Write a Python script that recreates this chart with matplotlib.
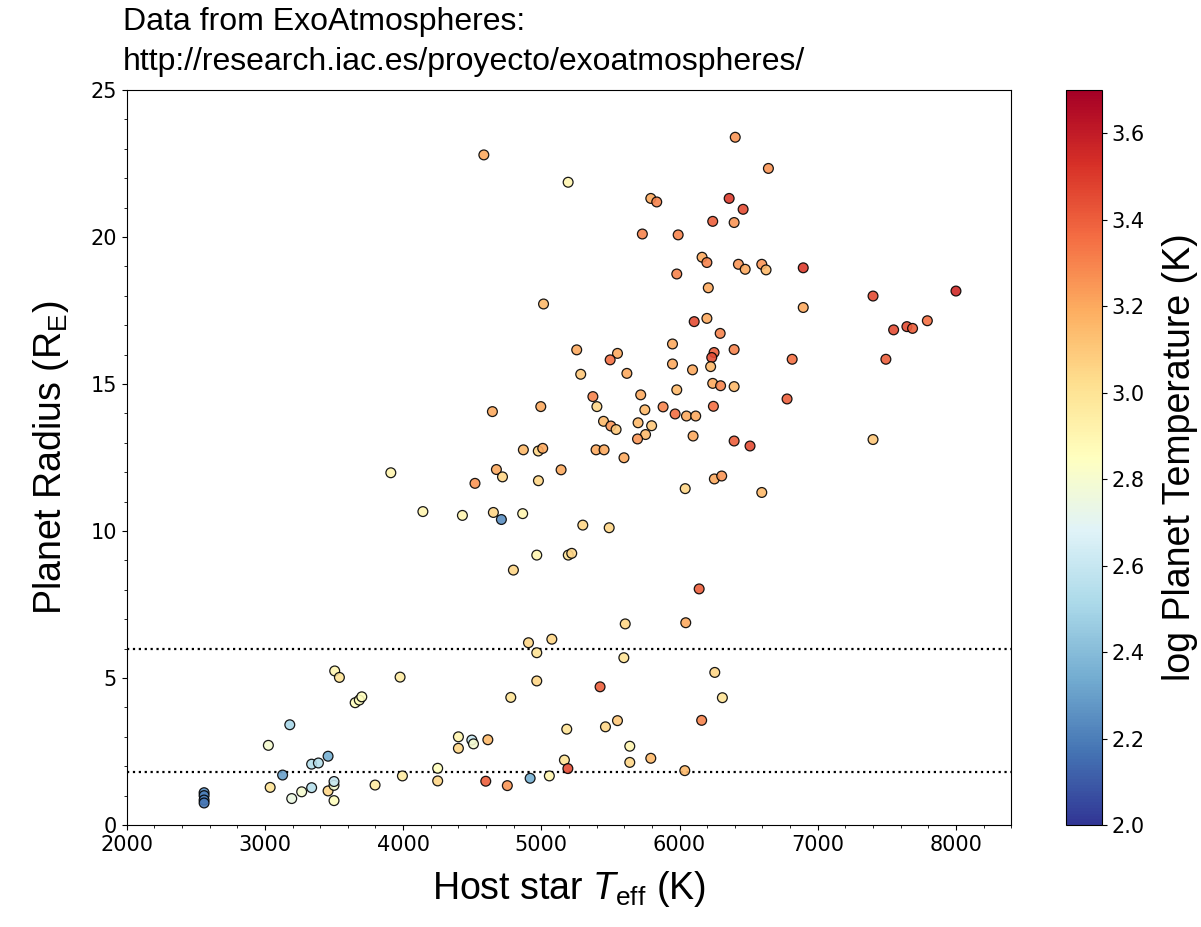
import numpy as np
import matplotlib
matplotlib.use('Agg')
import matplotlib.pyplot as plt
from matplotlib.ticker import MultipleLocator

plt.rcParams['mathtext.fontset'] = 'custom'
plt.rcParams['mathtext.rm'] = 'Liberation Sans'
plt.rcParams['mathtext.it'] = 'Liberation Sans:italic'

# host star effective temperature (K)
teff = [2560, 2560, 2560, 2560, 3025, 3038, 3180, 3128, 3194, 3266,
        3338, 3387, 3338, 3457, 3457, 3500, 3500, 3500, 3505, 3539,
        3653, 3683, 3701, 3797, 3978, 3995, 4250, 4250, 4400, 4400,
        4497, 4509, 4613, 4598, 4754, 4798, 4779, 4907, 4967, 4967,
        5076, 4919, 5058, 5184, 5167, 5192, 5425, 4967, 5195, 5220,
        6142, 6045, 5607, 5597, 6255, 6310, 5464, 5551, 6160, 5640,
        5640, 5792, 6038,
        5016, 5256, 5551, 5498, 5285, 5619, 5949, 5949, 6106, 6094,
        5980, 4646, 4996, 5373, 5402, 5719, 5749, 5881, 5968, 6050,
        6117, 6098, 5450, 5503, 5541, 5700, 5798, 5754, 5696, 4870,
        4978, 5010, 5396, 5454, 5598, 5143, 4675, 4719, 4520, 4979,
        6041, 3911, 4143, 4429, 4653, 4711, 4865, 5300, 5491,
        6403, 6643, 5194, 5792, 5835, 6359, 6460, 6240, 6395, 5731,
        5990, 6163, 6198, 6426, 6475, 6595, 6626, 6895, 5980, 6208,
        6895, 6198, 6294, 6395, 6250, 6233, 6225, 6815, 4584, 7400,
        8000, 7549, 7645, 7686, 7793, 7493, 6240, 6297, 6395, 6778,
        6245, 6395, 6510, 7400, 6252, 6305, 6595]

# planet radius (Earth radii)
radius = [1.10, 1.00, 0.85, 0.75, 2.71, 1.28, 3.41, 1.70, 0.90, 1.13,
          2.07, 2.11, 1.27, 2.34, 1.16, 1.35, 1.48, 0.83, 5.24, 5.02,
          4.16, 4.25, 4.36, 1.36, 5.03, 1.67, 1.93, 1.50, 3.00, 2.61,
          2.89, 2.76, 2.90, 1.49, 1.34, 8.67, 4.34, 6.20, 5.86, 4.90,
          6.32, 1.59, 1.67, 3.26, 2.21, 1.92, 4.70, 9.18, 9.18, 9.24,
          8.03, 6.88, 6.84, 5.69, 5.19, 4.33, 3.34, 3.55, 3.56, 2.68,
          2.13, 2.27, 1.85,
          17.72, 16.16, 16.04, 15.82, 15.33, 15.36, 16.36, 15.68, 17.12, 15.48,
          14.80, 14.06, 14.23, 14.57, 14.23, 14.63, 14.12, 14.22, 13.98, 13.91,
          13.91, 13.23, 13.73, 13.57, 13.45, 13.68, 13.58, 13.28, 13.13, 12.76,
          12.72, 12.81, 12.76, 12.76, 12.49, 12.08, 12.09, 11.84, 11.62, 11.71,
          11.44, 11.98, 10.66, 10.53, 10.63, 10.39, 10.59, 10.20, 10.11,
          23.39, 22.33, 21.86, 21.31, 21.19, 21.31, 20.94, 20.53, 20.49, 20.10,
          20.07, 19.31, 19.13, 19.07, 18.90, 19.07, 18.88, 18.95, 18.74, 18.27,
          17.60, 17.23, 16.72, 16.17, 16.07, 15.90, 15.59, 15.84, 22.79, 17.99,
          18.16, 16.84, 16.95, 16.89, 17.15, 15.84, 15.02, 14.94, 14.91, 14.49,
          14.24, 13.06, 12.89, 13.11, 11.77, 11.87, 11.31]

# log planet equilibrium temperature (K)
logtemp = [2.25, 2.20, 2.20, 2.18, 2.80, 3.00, 2.50, 2.30, 2.75, 2.80,
           2.55, 2.55, 2.55, 2.35, 3.05, 2.80, 2.60, 2.85, 2.90, 3.00,
           2.85, 2.85, 2.85, 2.95, 2.95, 2.95, 2.85, 3.05, 2.90, 3.05,
           2.60, 2.80, 3.15, 3.40, 3.25, 3.05, 3.00, 3.05, 3.00, 3.05,
           3.05, 2.35, 2.90, 3.00, 3.00, 3.45, 3.40, 2.90, 3.00, 3.05,
           3.40, 3.20, 3.05, 3.00, 3.05, 3.00, 3.05, 3.10, 3.30, 2.90,
           3.05, 3.15, 3.15,
           3.15, 3.20, 3.20, 3.35, 3.10, 3.20, 3.20, 3.20, 3.45, 3.20,
           3.15, 3.20, 3.20, 3.30, 3.05, 3.20, 3.15, 3.30, 3.35, 3.20,
           3.20, 3.20, 3.15, 3.25, 3.10, 3.15, 3.10, 3.15, 3.25, 3.15,
           3.05, 3.20, 3.20, 3.20, 3.20, 3.20, 3.20, 3.05, 3.25, 3.05,
           3.05, 2.90, 2.90, 2.90, 3.05, 2.25, 2.90, 3.05, 3.05,
           3.25, 3.25, 2.90, 3.20, 3.30, 3.50, 3.45, 3.40, 3.25, 3.30,
           3.30, 3.20, 3.30, 3.25, 3.20, 3.25, 3.15, 3.50, 3.30, 3.20,
           3.20, 3.20, 3.30, 3.30, 3.40, 3.45, 3.15, 3.35, 3.20, 3.45,
           3.55, 3.45, 3.45, 3.40, 3.35, 3.40, 3.20, 3.30, 3.15, 3.40,
           3.35, 3.40, 3.45, 3.10, 3.20, 3.25, 3.15]

fig = plt.figure(figsize=(12.01, 9.27), dpi=100)
ax = fig.add_axes([0.1055, 0.110, 0.7365, 0.793])
cax = fig.add_axes([0.8876, 0.110, 0.030, 0.793])

sc = ax.scatter(teff, radius, c=logtemp, cmap='RdYlBu_r', vmin=2.0, vmax=3.7,
                s=50, edgecolors='k', linewidths=0.9, alpha=0.9, zorder=3)

ax.axhline(6.0, color='k', linestyle=':', linewidth=1.6, zorder=2)
ax.axhline(1.8, color='k', linestyle=':', linewidth=1.6, zorder=2)

ax.set_xlim(2000, 8400)
ax.set_ylim(0, 25)
ax.xaxis.set_minor_locator(MultipleLocator(200))
ax.yaxis.set_minor_locator(MultipleLocator(1))
ax.tick_params(labelsize=15)

lab_font = dict(family='Liberation Sans', fontsize=27)
ax.set_xlabel(r'Host star $T_\mathrm{eff}$ (K)', labelpad=10, **lab_font)
ax.set_ylabel(r'Planet Radius (R$_\mathrm{E}$)', labelpad=14, **lab_font)

cb = fig.colorbar(sc, cax=cax)
cb.solids.set_alpha(1)
cb.set_ticks([2.0, 2.2, 2.4, 2.6, 2.8, 3.0, 3.2, 3.4, 3.6])
cb.ax.tick_params(labelsize=15)
cb.set_label('log Planet Temperature (K)', labelpad=12, **lab_font)

fig.text(0.1024, 0.992, 'Data from ExoAtmospheres:\nhttp://research.iac.es/proyecto/exoatmospheres/',
         family='Liberation Sans', fontsize=23, va='top', ha='left', linespacing=1.4)

fig.savefig('out.png', dpi=100)
